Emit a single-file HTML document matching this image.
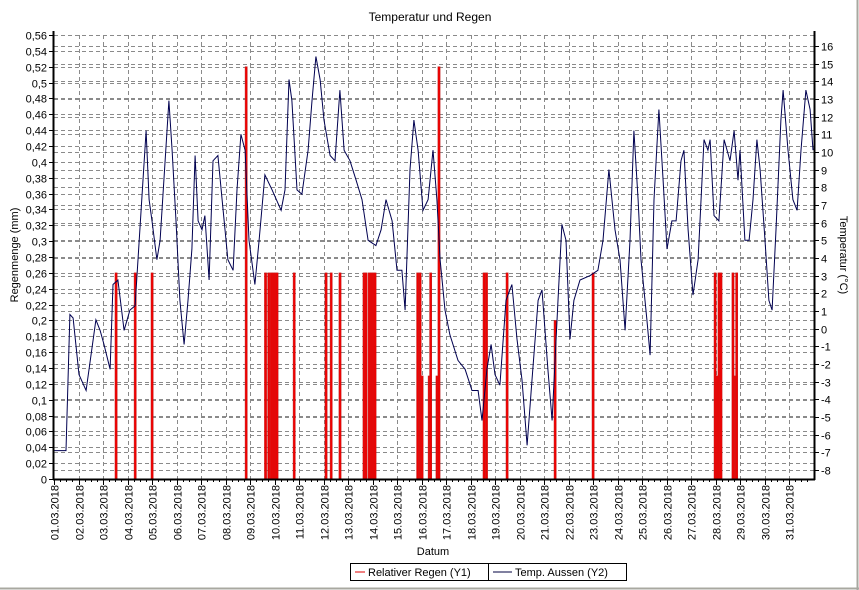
<!DOCTYPE html>
<html><head><meta charset="utf-8">
<style>
body{margin:0;background:#fff;}
svg{display:block;font-family:"Liberation Sans",Arial,sans-serif;}
</style></head>
<body>
<svg id="chart" width="859" height="590" viewBox="0 0 859 590" xmlns="http://www.w3.org/2000/svg">
<rect x="0" y="0" width="859" height="590" fill="#fff"/>
<line x1="857.5" y1="0" x2="857.5" y2="590" stroke="#a8a8a0" stroke-width="2"/>
<line x1="0" y1="588.5" x2="859" y2="588.5" stroke="#a8a8a0" stroke-width="2"/>
<text x="430" y="21" font-size="12" text-anchor="middle">Temperatur und Regen</text>
<g id="grid"></g>
<g id="rain"></g>
<g id="temp"></g>
<g id="axes"></g>
<text transform="translate(18,255) rotate(-90)" font-size="11" text-anchor="middle">Regenmenge (mm)</text>
<text transform="translate(840,255) rotate(90)" font-size="11" text-anchor="middle">Temperatur (°C)</text>
<text x="433" y="555" font-size="11" text-anchor="middle">Datum</text>
<g>
<rect x="350.5" y="563.5" width="276" height="17" fill="#fff" stroke="#000"/>
<line x1="488.5" y1="563.5" x2="488.5" y2="580.5" stroke="#000"/>
<line x1="355" y1="572" x2="365" y2="572" stroke="#e00000" stroke-width="1"/>
<text x="368" y="576" font-size="11">Relativer Regen (Y1)</text>
<line x1="493" y1="572" x2="512" y2="572" stroke="#000040" stroke-width="1"/>
<text x="515" y="576" font-size="11">Temp. Aussen (Y2)</text>
</g>
</svg>
<script>
const dateLabels = ["01.03.2018","02.03.2018","03.03.2018","04.03.2018","05.03.2018","06.03.2018","07.03.2018","08.03.2018","09.03.2018","10.03.2018","11.03.2018","12.03.2018","13.03.2018","14.03.2018","15.03.2018","16.03.2018","17.03.2018","18.03.2018","19.03.2018","20.03.2018","21.03.2018","22.03.2018","23.03.2018","24.03.2018","25.03.2018","26.03.2018","27.03.2018","28.03.2018","29.03.2018","30.03.2018","31.03.2018"];
const rainTicks = [0,0.02,0.04,0.06,0.08,0.1,0.12,0.14,0.16,0.18,0.2,0.22,0.24,0.26,0.28,0.3,0.32,0.34,0.36,0.38,0.4,0.42,0.44,0.46,0.48,0.5,0.52,0.54,0.56];
const tempTicks = [-8,-7,-6,-5,-4,-3,-2,-1,0,1,2,3,4,5,6,7,8,9,10,11,12,13,14,15,16];
const rainDays = [2.53,3.31,4.0,7.84,8.63,8.76,8.86,8.94,9.02,9.10,9.80,11.10,11.31,11.67,12.65,12.73,12.86,12.94,13.02,13.10,14.84,14.94,15.02,15.31,15.37,15.63,15.71,17.55,17.65,18.49,20.45,22.0,26.98,27.06,27.14,27.22,27.71,27.80,27.86];
const rainValues = [0.26,0.26,0.26,0.52,0.26,0.26,0.26,0.26,0.26,0.26,0.26,0.26,0.26,0.26,0.26,0.26,0.26,0.26,0.26,0.26,0.26,0.26,0.13,0.13,0.26,0.13,0.52,0.26,0.26,0.26,0.2,0.26,0.26,0.13,0.26,0.26,0.26,0.13,0.26];
const tempDays = [0,0.49,0.65,0.78,1.02,1.31,1.71,1.88,2.04,2.29,2.41,2.61,2.86,3.10,3.31,3.76,3.88,4.0,4.2,4.33,4.69,4.82,4.98,5.14,5.31,5.47,5.63,5.76,5.88,6.04,6.16,6.33,6.49,6.69,6.86,7.10,7.31,7.47,7.63,7.80,7.96,8.20,8.37,8.61,8.90,9.27,9.43,9.59,9.71,9.92,10.12,10.37,10.53,10.69,10.86,11.02,11.27,11.47,11.67,11.84,12.08,12.33,12.57,12.82,13.14,13.35,13.55,13.80,14.0,14.20,14.33,14.53,14.69,14.86,15.06,15.27,15.47,15.63,15.76,15.96,16.16,16.49,16.78,17.06,17.31,17.47,17.67,17.84,18.0,18.20,18.45,18.69,18.90,19.10,19.31,19.51,19.76,19.92,20.16,20.33,20.57,20.73,20.90,21.06,21.22,21.47,21.88,22.20,22.41,22.65,22.90,23.10,23.31,23.51,23.67,23.84,23.96,24.20,24.33,24.49,24.69,24.86,25.02,25.22,25.39,25.59,25.71,25.88,26.08,26.29,26.53,26.69,26.78,26.94,27.14,27.35,27.59,27.76,27.92,28.0,28.20,28.37,28.53,28.69,28.82,29.02,29.18,29.31,29.47,29.67,29.76,29.96,30.16,30.33,30.49,30.69,30.86,30.98];
const tempValues = [-6.9,-6.9,0.8,0.6,-2.6,-3.5,0.5,-0.1,-0.9,-2.3,2.5,2.75,-0.1,1.05,1.3,11.2,7.3,6.1,3.9,5.0,12.9,10.1,6.1,1.6,-0.9,1.6,4.5,9.8,6.1,5.6,6.4,2.75,9.5,9.8,7.3,3.9,3.3,7.85,11.0,10.1,5.0,2.5,5.0,8.7,7.85,6.7,7.85,14.1,12.9,7.85,7.6,10.1,12.9,15.4,14.1,11.8,9.8,9.5,13.5,10.1,9.5,8.4,7.3,5.0,4.7,5.6,7.3,6.1,3.3,3.3,1.05,9.0,11.8,10.1,6.7,7.3,10.1,7.3,3.9,1.05,-0.35,-1.8,-2.3,-3.5,-3.5,-5.2,-2.3,-0.9,-2.6,-3.2,1.6,2.5,-0.6,-2.9,-6.6,-2.9,1.6,2.2,-2.3,-5.2,1.6,5.9,5.0,-0.6,1.6,2.75,3.0,3.3,5.0,9.0,5.6,3.9,-0.1,5.0,11.2,7.3,3.9,0.5,-1.5,7.3,12.4,8.4,4.5,6.1,6.1,9.5,10.1,5.6,1.9,3.9,10.7,10.1,10.7,6.4,6.1,10.7,9.5,11.2,8.4,10.1,5.0,5.0,7.3,10.7,9.0,5.0,1.6,1.05,5.6,11.8,13.5,10.1,7.3,6.7,10.1,13.5,12.4,10.1];

const NS='http://www.w3.org/2000/svg';
const X0=54, X1=814, YB=479, YT=35;
const xScale = d => X0 + d*24.5;
const yRain = v => YB - v/0.56*(YB-YT);
const yTemp = t => 470 - (t+8)*17.67;
function mk(tag, attrs, parent){const e=document.createElementNS(NS,tag);for(const k in attrs)e.setAttribute(k,attrs[k]);parent.appendChild(e);return e;}
const grid=document.getElementById('grid'), rain=document.getElementById('rain'), temp=document.getElementById('temp'), axes=document.getElementById('axes');
const fmt = v => String(Math.round(v*100)/100).replace('.',',');

rainTicks.forEach(v=>{
  const y=Math.round(yRain(v))+0.5;
  if(v>0){const g=mk('line',{x1:X0,x2:X1,y1:y,y2:y,stroke:'#8a8a8a','stroke-dasharray':'4,3'},grid);
  
  }
  mk('line',{x1:X0-5,x2:X0,y1:y,y2:y,stroke:'#000'},axes);
  const t=mk('text',{x:X0-7,y:y+4,'font-size':11,'text-anchor':'end'},axes);
  t.textContent=fmt(v);
  
  
});
tempTicks.forEach(v=>{
  const y=Math.round(yTemp(v))+0.5;
  const g=mk('line',{x1:X0,x2:X1,y1:y,y2:y,stroke:'#8a8a8a','stroke-dasharray':'4,3'},grid);
  
  
  mk('line',{x1:X1,x2:X1+5,y1:y,y2:y,stroke:'#000'},axes);
  const t=mk('text',{x:X1+7,y:y+4,'font-size':11},axes);
  t.textContent=String(v);
  
  
});
dateLabels.forEach((s,i)=>{
  const x=Math.round(xScale(i))+0.5;
  if(i>0){const g=mk('line',{x1:x,x2:x,y1:YT,y2:YB,stroke:'#8a8a8a','stroke-dasharray':'4,3'},grid);
  
  }
  mk('line',{x1:x,x2:x,y1:YB,y2:YB+6,stroke:'#000'},axes);
  for(let k=1;k<4;k++){const xm=Math.round(xScale(i+k/4))+0.5;mk('line',{x1:xm,x2:xm,y1:YB,y2:YB+3,stroke:'#000'},axes);}
  const t=mk('text',{transform:`translate(${x+4},${YB+6}) rotate(-90)`,'font-size':11,'text-anchor':'end'},axes);
  t.textContent=s;
  
  
});
rainDays.forEach((d,i)=>{
  const x=xScale(d), y=yRain(rainValues[i]);
  const r=mk('rect',{x:x-1,y:y,width:2.2,height:YB-y,fill:'#f00000',stroke:'#c02020','stroke-width':0.5},rain);
  
  
});
const pts=tempDays.map((d,i)=>xScale(d).toFixed(1)+','+yTemp(tempValues[i]).toFixed(1)).join(' ');
const pl=mk('polyline',{points:pts,fill:'none',stroke:'#000050','stroke-width':1},temp);


mk('line',{x1:X0-0.5,x2:X0-0.5,y1:YT-4,y2:YB+1,stroke:'#000','stroke-width':2},axes);
mk('line',{x1:X1+0.5,x2:X1+0.5,y1:YT-4,y2:YB+1,stroke:'#000','stroke-width':2},axes);
mk('line',{x1:X0-1,x2:X1+1,y1:YB+0.5,y2:YB+0.5,stroke:'#000','stroke-width':2},axes);
</script>
</body></html>
